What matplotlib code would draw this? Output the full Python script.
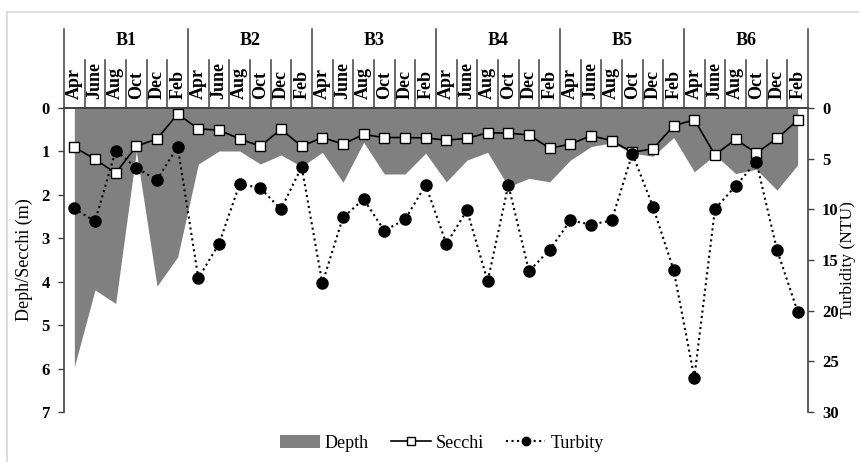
import numpy as np
import matplotlib.pyplot as plt
import matplotlib.transforms as mtransforms
from matplotlib.lines import Line2D
from matplotlib.patches import Patch

plt.rcParams['font.family'] = ['Liberation Serif', 'DejaVu Serif']

sites = ['B1', 'B2', 'B3', 'B4', 'B5', 'B6']
months = ['Apr', 'June', 'Aug', 'Oct', 'Dec', 'Feb']

depth = [5.96, 4.19, 4.50, 1.00, 4.10, 3.43,
         1.29, 0.99, 0.99, 1.29, 1.08, 1.35,
         1.02, 1.71, 0.79, 1.52, 1.52, 1.04,
         1.70, 1.20, 1.02, 1.81, 1.62, 1.70,
         1.20, 0.89, 0.80, 1.04, 1.11, 0.68,
         1.47, 1.08, 1.51, 1.41, 1.89, 1.31]

secchi = [0.90, 1.18, 1.50, 0.88, 0.71, 0.14,
          0.48, 0.51, 0.71, 0.88, 0.49, 0.88,
          0.68, 0.83, 0.61, 0.68, 0.68, 0.69,
          0.74, 0.70, 0.57, 0.58, 0.62, 0.93,
          0.83, 0.64, 0.75, 1.02, 0.94, 0.41,
          0.27, 1.08, 0.72, 1.04, 0.70, 0.28]

turbidity = [9.9, 11.2, 4.2, 5.9, 7.1, 3.8,
             16.8, 13.4, 7.5, 7.9, 10.0, 5.8,
             17.3, 10.8, 9.0, 12.1, 11.0, 7.6,
             13.4, 10.1, 17.1, 7.6, 16.1, 14.0,
             11.1, 11.5, 11.1, 4.5, 9.75, 16.0,
             26.6, 9.95, 7.7, 5.3, 14.0, 20.1]

n = len(depth)
x = np.arange(n)

fig = plt.figure(figsize=(8.59, 4.62), dpi=100)

# light frame round the chart area
fig.add_artist(Line2D([6.5/859, 1], [1-12/462, 1-12/462], color='#d9d9d9', lw=1.2))
fig.add_artist(Line2D([6.5/859, 6.5/859], [0, 1-12/462], color='#d9d9d9', lw=1.2))

ax = fig.add_axes([64/859, 1-412/462, 744/859, 304/462])
ax.fill_between(x, 0, depth, color='#808080', lw=0, label='Depth')
ax.plot(x, secchi, '-', color='black', lw=1.2, marker='s', ms=7,
        mfc='white', mec='black', mew=1, label='Secchi', zorder=3)
ax.set_xlim(-0.5, n-0.5)
ax.set_ylim(7, 0)
ax.set_yticks(range(0, 8))
ax.set_xticks([])
ax.set_ylabel('Deph/Secchi (m)', fontsize=13, labelpad=6)

ax2 = ax.twinx()
ax2.plot(x, turbidity, ':', color='black', lw=1.5, marker='o', ms=8,
         label='Turbity')
ax2.set_ylim(30, 0)
ax2.set_yticks(range(0, 31, 5))
ax2.set_ylabel('Turbidity (NTU)', fontsize=12.5, labelpad=1)

for a in (ax, ax2):
    a.spines['bottom'].set_visible(False)
    for s in ('left', 'right', 'top'):
        a.spines[s].set_color('#404040')
        a.spines[s].set_linewidth(1.2)
    a.tick_params(axis='y', direction='out', length=4, width=1,
                  color='#404040', pad=6, labelsize=12)
    for lab in a.get_yticklabels():
        lab.set_fontweight('bold')
ax2.spines['left'].set_visible(False)
ax.spines['right'].set_visible(False)

# category header above the top axis
trans = mtransforms.blended_transform_factory(ax.transData, ax.transAxes)
for k in range(n + 1):
    top = 1.26 if k % 6 == 0 else 1.158
    ax.plot([k-0.5, k-0.5], [1.0, top], color='#404040', lw=1.1,
            transform=trans, clip_on=False)
for i in range(n):
    ax.text(i, 1.03, months[i % 6], transform=trans, rotation=90,
            ha='center', va='bottom', fontsize=13, fontweight='bold')
for j, s in enumerate(sites):
    ax.text(j*6 + 2.5, 1.222, s, transform=trans, ha='center', va='center',
            fontsize=13, fontweight='bold')

handles = [Patch(facecolor='#808080', edgecolor='none', label='Depth'),
           Line2D([], [], color='black', lw=1.2, marker='s', ms=6,
                  mfc='white', mec='black', label='Secchi'),
           Line2D([], [], color='black', lw=1.5, ls=':', marker='o', ms=6,
                  label='Turbity')]
fig.legend(handles=handles, loc='center', bbox_to_anchor=(442/859, 1-443/462),
           ncol=3, frameon=False, fontsize=13, handlelength=2.2,
           handletextpad=0.3, columnspacing=1.2)

fig.savefig('out.png', dpi=100)
